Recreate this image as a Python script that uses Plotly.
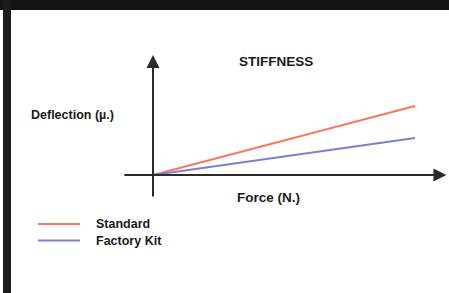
import plotly.graph_objects as go

# Data
force = [0, 10]
standard = [0, 6.9]
factory_kit = [0, 3.7]
series_names = ["Standard", "Factory Kit"]
title_text = "STIFFNESS"
x_label = "Force (N.)"
y_label = "Deflection (µ.)"

W, H = 449, 293
ORANGE = "#f47a5c"
BLUE = "#7b80cf"
AXIS = "#2b2b2b"
FONT = dict(family="Liberation Sans, Arial, sans-serif", size=12.5, color="#1a1a1a")
FONT_BIG = dict(family="Liberation Sans, Arial, sans-serif", size=13.5, color="#1a1a1a")

def px(x):
    return x / W

def py(y):
    return 1 - y / H

fig = go.Figure()
fig.add_trace(go.Scatter(x=force, y=standard, mode="lines", name=series_names[0],
                         line=dict(color=ORANGE, width=2), showlegend=False, hoverinfo="skip"))
fig.add_trace(go.Scatter(x=force, y=factory_kit, mode="lines", name=series_names[1],
                         line=dict(color=BLUE, width=2), showlegend=False, hoverinfo="skip"))

# axis arrows (data coords)
fig.add_annotation(x=11.2, y=0, ax=-1.15, ay=0, xref="x", yref="y", axref="x", ayref="y",
                   showarrow=True, arrowhead=2, arrowsize=1.3, arrowwidth=2, arrowcolor=AXIS, text="")
fig.add_annotation(x=0, y=12.0, ax=0, ay=-2.3, xref="x", yref="y", axref="x", ayref="y",
                   showarrow=True, arrowhead=2, arrowsize=1.3, arrowwidth=2, arrowcolor=AXIS, text="")

# texts
bold = lambda s: "<b>" + s + "</b>"
fig.add_annotation(x=px(275.5), y=py(61), xref="paper", yref="paper", text=bold(title_text),
                   showarrow=False, font=FONT_BIG, xanchor="center", yanchor="middle")
fig.add_annotation(x=px(268), y=py(198), xref="paper", yref="paper", text=bold(x_label),
                   showarrow=False, font=FONT_BIG, xanchor="center", yanchor="middle")
fig.add_annotation(x=px(29), y=py(115), xref="paper", yref="paper", text=bold(y_label),
                   showarrow=False, font=FONT, xanchor="left", yanchor="middle")

# manual legend
for i, (name, col) in enumerate(zip(series_names, [ORANGE, BLUE])):
    yy = 224 + i * 16.5
    fig.add_shape(type="line", xref="paper", yref="paper", x0=px(38), x1=px(80), y0=py(yy), y1=py(yy),
                  line=dict(color=col, width=2))
    fig.add_annotation(x=px(94), y=py(yy), xref="paper", yref="paper", text=bold(name),
                       showarrow=False, font=FONT, xanchor="left", yanchor="middle")

# frame
fig.add_shape(type="rect", xref="paper", yref="paper", x0=0, x1=1, y0=py(10), y1=1,
              fillcolor="#151314", line=dict(width=0), layer="above")
fig.add_shape(type="rect", xref="paper", yref="paper", x0=px(3), x1=px(11), y0=0, y1=1,
              fillcolor="#1c1a1b", line=dict(width=0), layer="above")

fig.update_layout(
    width=W, height=H, autosize=False,
    margin=dict(l=0, r=0, t=0, b=0),
    paper_bgcolor="white", plot_bgcolor="white",
    xaxis=dict(range=[-153 / 26.2, 296 / 26.2], visible=False, fixedrange=True),
    yaxis=dict(range=[-11.8, 17.5], visible=False, fixedrange=True),
    showlegend=False,
)

fig.write_html("out.html", post_script="document.body.style.margin='0';",
               config={"displayModeBar": False})
